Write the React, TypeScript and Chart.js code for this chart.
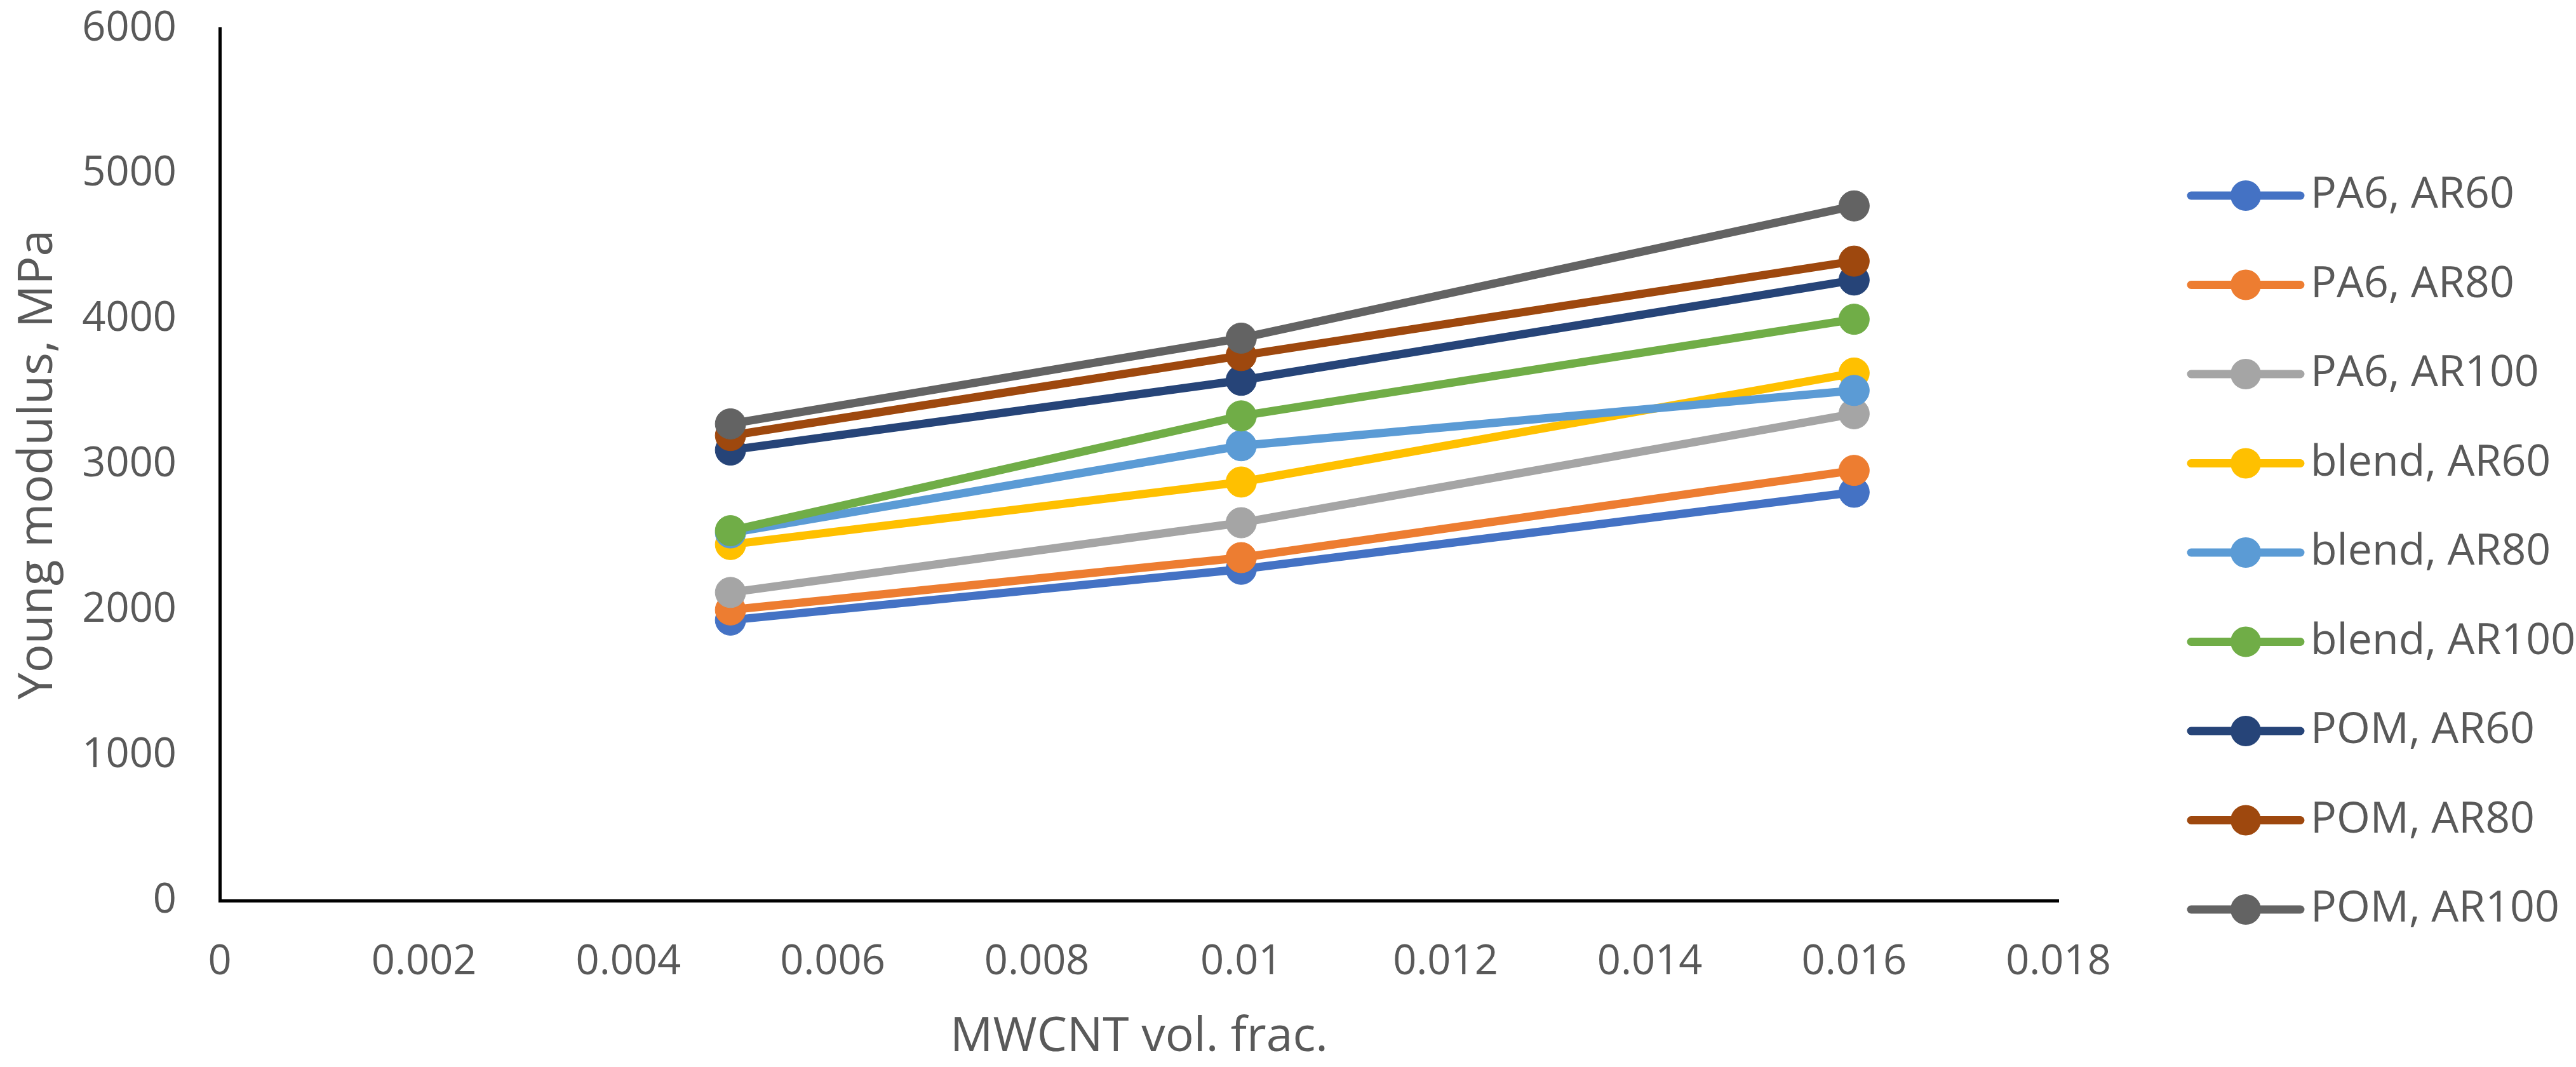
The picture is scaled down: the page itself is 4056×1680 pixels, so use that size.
import { useEffect, useRef } from 'react';
import { Chart, registerables } from 'chart.js';

Chart.register(...registerables);

const xValues = [0.005, 0.01, 0.016];
const seriesNames = [
  'PA6, AR60', 'PA6, AR80', 'PA6, AR100',
  'blend, AR60', 'blend, AR80', 'blend, AR100',
  'POM, AR60', 'POM, AR80', 'POM, AR100',
];
const pa6Ar60 = [1930, 2280, 2810];
const pa6Ar80 = [2000, 2360, 2960];
const pa6Ar100 = [2120, 2600, 3350];
const blendAr60 = [2450, 2880, 3630];
const blendAr80 = [2530, 3130, 3510];
const blendAr100 = [2545, 3335, 4000];
const pomAr60 = [3100, 3580, 4270];
const pomAr80 = [3200, 3750, 4400];
const pomAr100 = [3280, 3870, 4780];
const seriesValues = [pa6Ar60, pa6Ar80, pa6Ar100, blendAr60, blendAr80, blendAr100, pomAr60, pomAr80, pomAr100];
const seriesColors = ['#4472C4', '#ED7D31', '#A5A5A5', '#FFC000', '#5B9BD5', '#70AD47', '#264478', '#9E480E', '#636363'];
const xTicks = [0, 0.002, 0.004, 0.006, 0.008, 0.01, 0.012, 0.014, 0.016, 0.018];
const yTicks = [0, 1000, 2000, 3000, 4000, 5000, 6000];

const FONT = '"Open Sans", "Noto Sans", sans-serif';
const TEXT = '#595959';

// legend drawn to the right of the plot: line + marker + label
const sideLegend = {
  id: 'sideLegend',
  afterDraw(chart: Chart) {
    const { ctx, chartArea } = chart;
    ctx.save();
    chart.data.datasets.forEach((ds: any, i: number) => {
      const y = chartArea.top + 263 + i * 140.5;
      const x0 = chartArea.right + 209;
      const x1 = x0 + 172;
      ctx.strokeStyle = ds.borderColor;
      ctx.lineWidth = 13;
      ctx.lineCap = 'round';
      ctx.beginPath();
      ctx.moveTo(x0, y);
      ctx.lineTo(x1, y);
      ctx.stroke();
      ctx.fillStyle = ds.borderColor;
      ctx.beginPath();
      ctx.arc((x0 + x1) / 2, y, 24, 0, Math.PI * 2);
      ctx.fill();
      ctx.fillStyle = TEXT;
      ctx.font = `68px ${FONT}`;
      ctx.textBaseline = 'middle';
      ctx.textAlign = 'left';
      ctx.fillText(ds.label, x1 + 16, y);
    });
    ctx.restore();
  },
};

export default function App() {
  const canvasRef = useRef<HTMLCanvasElement>(null);

  useEffect(() => {
    if (!canvasRef.current) return;
    const n = seriesNames.length;
    const chart = new Chart(canvasRef.current, {
      type: 'line',
      data: {
        datasets: seriesNames.map((name, i) => ({
          label: name,
          data: xValues.map((x, j) => ({ x, y: seriesValues[i][j] })),
          borderColor: seriesColors[i],
          backgroundColor: seriesColors[i],
          borderWidth: 13,
          pointRadius: 24,
          pointHoverRadius: 24,
          pointBorderWidth: 1,
          pointBackgroundColor: seriesColors[i],
          pointBorderColor: seriesColors[i],
          order: n - i,
          tension: 0,
        })),
      },
      options: {
        animation: false,
        responsive: true,
        maintainAspectRatio: false,
        layout: { padding: { top: 45, right: 815, bottom: 0, left: 0 } },
        plugins: { legend: { display: false }, tooltip: { enabled: false } },
        scales: {
          x: {
            type: 'linear',
            min: 0,
            max: 0.018,
            afterBuildTicks: (s: any) => { s.ticks = xTicks.map((v) => ({ value: v })); },
            afterFit: (s: any) => { s.height = 262; s.paddingLeft = 0; s.paddingRight = 0; },
            grid: { display: false, drawTicks: false },
            border: { display: true, color: '#000', width: 5 },
            ticks: {
              color: TEXT,
              font: { family: FONT, size: 65 },
              padding: 58,
              maxRotation: 0,
              autoSkip: false,
              callback: (v: any) => String(Number(Number(v).toFixed(3))),
            },
            title: {
              display: true,
              text: 'MWCNT vol. frac.',
              color: TEXT,
              font: { family: FONT, size: 75 },
              padding: { top: 0, bottom: 1 },
            },
          },
          y: {
            type: 'linear',
            min: 0,
            max: 6000,
            afterBuildTicks: (s: any) => { s.ticks = yTicks.map((v) => ({ value: v })); },
            afterFit: (s: any) => { s.width = 346; s.paddingTop = 0; s.paddingBottom = 0; },
            grid: { display: false, drawTicks: false },
            border: { display: true, color: '#000', width: 5 },
            ticks: {
              color: TEXT,
              font: { family: FONT, size: 65 },
              padding: 68,
              callback: (v: any) => String(v),
            },
            title: {
              display: true,
              text: 'Young modulus, MPa',
              color: TEXT,
              font: { family: FONT, size: 75 },
              padding: { top: 16, bottom: 0 },
            },
          },
        },
      },
      plugins: [sideLegend],
    });
    return () => { chart.destroy(); };
  }, []);

  return (
    <div style={{ position: 'fixed', left: 0, top: 0, width: 4056, height: 1680, background: '#fff' }}>
      <canvas ref={canvasRef} />
    </div>
  );
}
